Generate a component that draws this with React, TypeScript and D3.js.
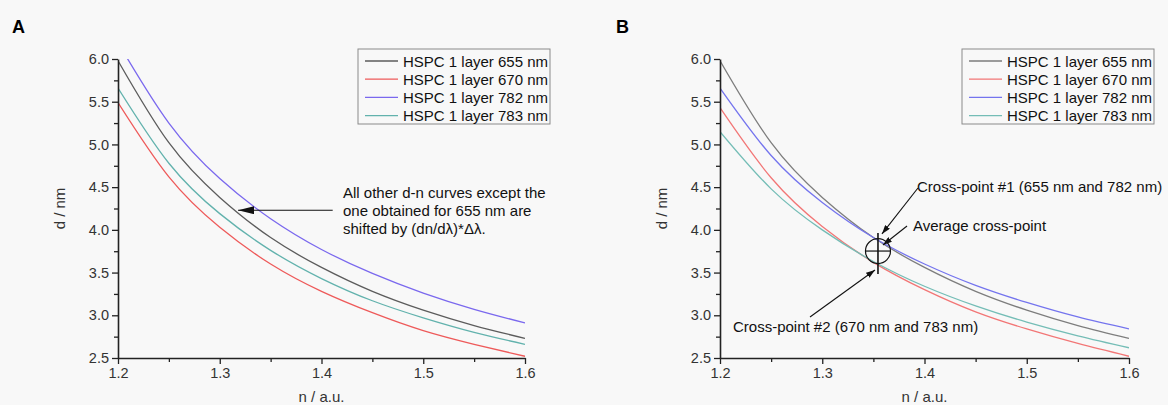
import { useEffect, useRef } from 'react';
import * as d3 from 'd3';

// refractive index grid (x) shared by every curve
const refractiveIndex = [1.2, 1.25, 1.3, 1.35, 1.4, 1.45, 1.5, 1.55, 1.6];
const seriesNames = ['HSPC 1 layer 655 nm', 'HSPC 1 layer 670 nm', 'HSPC 1 layer 782 nm', 'HSPC 1 layer 783 nm'];

// panel A: thickness d (nm), curves shifted by (dn/dλ)*Δλ
const shifted655 = [5.98, 5.02, 4.38, 3.91, 3.56, 3.28, 3.06, 2.88, 2.73];
const shifted670 = [5.49, 4.62, 4.03, 3.6, 3.28, 3.03, 2.82, 2.66, 2.52];
const shifted782 = [6.19, 5.25, 4.6, 4.13, 3.77, 3.49, 3.26, 3.07, 2.91];
const shifted783 = [5.66, 4.78, 4.19, 3.76, 3.43, 3.17, 2.97, 2.8, 2.66];

// panel B: unshifted curves
const raw655 = [5.98, 5.02, 4.38, 3.91, 3.56, 3.28, 3.06, 2.88, 2.73];
const raw670 = [5.43, 4.61, 4.04, 3.62, 3.3, 3.04, 2.84, 2.67, 2.52];
const raw782 = [5.66, 4.87, 4.32, 3.91, 3.6, 3.35, 3.15, 2.98, 2.84];
const raw783 = [5.15, 4.48, 4.0, 3.63, 3.34, 3.11, 2.92, 2.76, 2.62];

const xMajor = [1.2, 1.3, 1.4, 1.5, 1.6];
const xMinor = [1.25, 1.35, 1.45, 1.55];
const yMajor = [2.5, 3.0, 3.5, 4.0, 4.5, 5.0, 5.5, 6.0];
const yMinor = [2.75, 3.25, 3.75, 4.25, 4.75, 5.25, 5.75];

const FONT = "'Liberation Sans', Arial, Helvetica, sans-serif";
const TOP = 59;
const BOTTOM = 358;

const panels = [
  {
    letter: 'A',
    letterX: 12,
    left: 118,
    right: 525,
    legendX: 358,
    series: [shifted655, shifted670, shifted782, shifted783],
    colors: ['#5c5c5c', '#ee5a5a', '#7a68ee', '#62b2ad'],
  },
  {
    letter: 'B',
    letterX: 616,
    left: 720,
    right: 1129,
    legendX: 962,
    series: [raw655, raw670, raw782, raw783],
    colors: ['#7d7d7d', '#f27676', '#7474ee', '#74bdb6'],
  },
];

const App = () => {
  const svgRef = useRef(null);

  useEffect(() => {
    const svg = d3.select(svgRef.current);
    svg.selectAll('*').remove();

    svg.append('rect').attr('width', 1168).attr('height', 405).attr('fill', '#f8f8f8');

    const defs = svg.append('defs');
    defs.append('marker')
      .attr('id', 'headBig')
      .attr('viewBox', '0 0 16 8')
      .attr('refX', 16).attr('refY', 4)
      .attr('markerWidth', 16).attr('markerHeight', 8)
      .attr('markerUnits', 'userSpaceOnUse')
      .attr('orient', 'auto')
      .append('path').attr('d', 'M0,0 L16,4 L0,8 Z').attr('fill', '#111');
    defs.append('marker')
      .attr('id', 'headSmall')
      .attr('viewBox', '0 0 9 6')
      .attr('refX', 9).attr('refY', 3)
      .attr('markerWidth', 9).attr('markerHeight', 6)
      .attr('markerUnits', 'userSpaceOnUse')
      .attr('orient', 'auto')
      .append('path').attr('d', 'M0,0 L9,3 L0,6 Z').attr('fill', '#111');

    panels.forEach((p, pi) => {
      const x = d3.scaleLinear().domain([1.2, 1.6]).range([p.left, p.right]);
      const y = d3.scaleLinear().domain([2.5, 6.0]).range([BOTTOM, TOP]);
      const g = svg.append('g');

      defs.append('clipPath').attr('id', 'clip' + pi)
        .append('rect')
        .attr('x', p.left).attr('y', TOP)
        .attr('width', p.right - p.left).attr('height', BOTTOM - TOP);

      // panel letter
      g.append('text')
        .attr('x', p.letterX).attr('y', 33)
        .attr('font-family', FONT).attr('font-weight', 'bold').attr('font-size', 18)
        .text(p.letter);

      // curves
      const line = d3.line()
        .x((d, i) => x(refractiveIndex[i]))
        .y(d => y(d))
        .curve(d3.curveNatural);
      g.append('g').attr('clip-path', `url(#clip${pi})`)
        .selectAll('path')
        .data(p.series)
        .join('path')
        .attr('d', d => line(d))
        .attr('fill', 'none')
        .attr('stroke', (d, i) => p.colors[i])
        .attr('stroke-width', 1.3);

      // axes
      const xAxis = g.append('g').attr('transform', `translate(0,${BOTTOM})`)
        .call(d3.axisBottom(x).tickValues(xMajor).tickFormat(d3.format('.1f')).tickSize(6).tickSizeOuter(0).tickPadding(4));
      g.append('g').attr('transform', `translate(0,${BOTTOM})`)
        .call(d3.axisBottom(x).tickValues(xMinor).tickFormat(() => '').tickSize(4).tickSizeOuter(0))
        .select('.domain').remove();
      const yAxis = g.append('g').attr('transform', `translate(${p.left},0)`)
        .call(d3.axisLeft(y).tickValues(yMajor).tickFormat(d3.format('.1f')).tickSize(6).tickSizeOuter(0).tickPadding(3));
      g.append('g').attr('transform', `translate(${p.left},0)`)
        .call(d3.axisLeft(y).tickValues(yMinor).tickFormat(() => '').tickSize(4).tickSizeOuter(0))
        .select('.domain').remove();

      g.selectAll('.domain').attr('stroke', '#222').attr('stroke-width', 1.6);
      g.selectAll('.tick line').attr('stroke', '#222').attr('stroke-width', 1.3);
      [xAxis, yAxis].forEach(a => a.selectAll('text')
        .attr('font-family', FONT).attr('font-size', 14.5).attr('fill', '#333'));

      // axis titles
      g.append('text')
        .attr('x', (p.left + p.right) / 2).attr('y', 402)
        .attr('text-anchor', 'middle')
        .attr('font-family', FONT).attr('font-size', 15).attr('fill', '#333')
        .text('n / a.u.');
      g.append('text')
        .attr('transform', `translate(${p.left - 53},${(TOP + BOTTOM) / 2}) rotate(-90)`)
        .attr('text-anchor', 'middle')
        .attr('font-family', FONT).attr('font-size', 15).attr('fill', '#333')
        .text('d / nm');

      // legend
      const lg = g.append('g').attr('transform', `translate(${p.legendX},49)`);
      lg.append('rect').attr('width', 192).attr('height', 75)
        .attr('fill', 'none').attr('stroke', '#8a8a8a').attr('stroke-width', 1);
      seriesNames.forEach((name, i) => {
        const cy = 12 + i * 18.2;
        lg.append('line').attr('x1', 7).attr('x2', 40).attr('y1', cy).attr('y2', cy)
          .attr('stroke', p.colors[i]).attr('stroke-width', 1.3);
        lg.append('text').attr('x', 45).attr('y', cy + 5.5)
          .attr('font-family', FONT).attr('font-size', 15).attr('fill', '#111')
          .text(name);
      });

      const ann = g.append('g').attr('font-family', FONT).attr('font-size', 15).attr('fill', '#111');
      if (p.letter === 'A') {
        g.append('line')
          .attr('x1', x(1.411)).attr('y1', y(4.23))
          .attr('x2', x(1.318)).attr('y2', y(4.23))
          .attr('stroke', '#111').attr('stroke-width', 1.1)
          .attr('marker-end', 'url(#headBig)');
        const lines = ['All other d-n curves except the', 'one obtained for 655 nm are', 'shifted by (dn/dλ)*Δλ.'];
        lines.forEach((t, i) => {
          ann.append('text').attr('x', 343).attr('y', 198 + i * 18).text(t);
        });
      } else {
        // average cross-point marker
        const cx = x(1.3545);
        const cy = y(3.752);
        g.append('circle').attr('cx', cx).attr('cy', cy).attr('r', 12.5)
          .attr('fill', 'none').attr('stroke', '#111').attr('stroke-width', 1.2);
        g.append('line').attr('x1', cx - 12.5).attr('x2', cx + 12.5).attr('y1', cy).attr('y2', cy)
          .attr('stroke', '#111').attr('stroke-width', 1.2);
        g.append('line').attr('x1', cx).attr('x2', cx).attr('y1', y(3.963)).attr('y2', y(3.483))
          .attr('stroke', '#111').attr('stroke-width', 1.6);

        const arrows = [
          [1.3936, 4.49, 1.3584, 3.952],
          [1.3829, 4.045, 1.3594, 3.823],
          [1.288, 2.98, 1.3516, 3.53],
        ];
        arrows.forEach(a => {
          g.append('line')
            .attr('x1', x(a[0])).attr('y1', y(a[1]))
            .attr('x2', x(a[2])).attr('y2', y(a[3]))
            .attr('stroke', '#111').attr('stroke-width', 1.1)
            .attr('marker-end', 'url(#headSmall)');
        });
        ann.append('text').attr('x', 917).attr('y', 192).text('Cross-point #1 (655 nm and 782 nm)');
        ann.append('text').attr('x', 913).attr('y', 231).text('Average cross-point');
        ann.append('text').attr('x', 733).attr('y', 332).text('Cross-point #2 (670 nm and 783 nm)');
      }
    });
  }, []);

  return (
    <svg
      ref={svgRef}
      width={1168}
      height={405}
      style={{ position: 'absolute', left: 0, top: 0, display: 'block' }}
    />
  );
};

export default App;
